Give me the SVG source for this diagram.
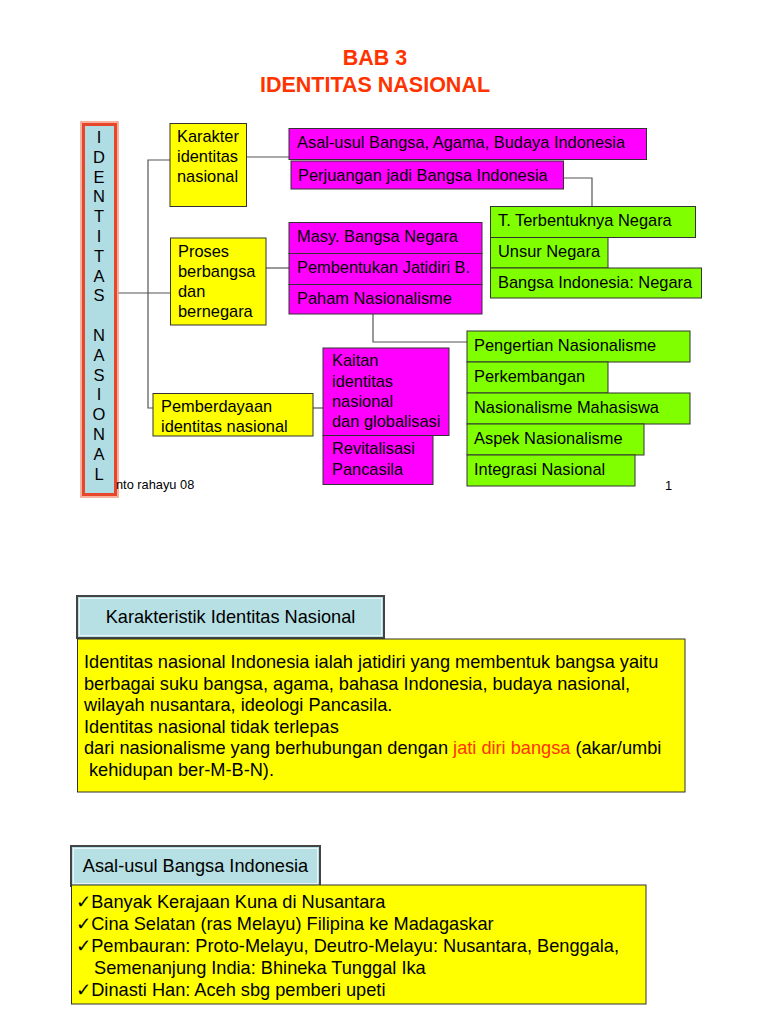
<svg xmlns="http://www.w3.org/2000/svg" width="768" height="1024" viewBox="0 0 768 1024">
<style>
text{font-family:"Liberation Sans","DejaVu Sans",Arial,sans-serif;fill:#000}
.t{font-size:16.4px}
.title{font-size:21.5px;font-weight:bold;fill:#ff3300;text-anchor:middle}
.v{font-size:16.5px;text-anchor:middle}
.foot{font-size:12.8px}
.b{font-size:18.2px}
.yel{fill:#ffff00;stroke:#333;stroke-width:1}
.mag{fill:#ff00ff;stroke:#333;stroke-width:1}
.grn{fill:#80ff00;stroke:#333;stroke-width:1}
.hdr{fill:#b6e0e4;stroke:#444;stroke-width:2}
.ln{fill:none;stroke:#555;stroke-width:1.2}
.red{fill:#ff3300}
</style>
<rect width="768" height="1024" fill="#fff"/>
<g id="title">
<text class="title" x="375" y="65">BAB 3</text>
<text class="title" x="375" y="92">IDENTITAS NASIONAL</text>
</g>
<g id="connectors">
<polyline class="ln" points="170,160 148,160 148,408 153,408"/>
<line class="ln" x1="118" y1="293" x2="170" y2="293"/>
<line class="ln" x1="241" y1="157" x2="289" y2="157"/>
<line class="ln" x1="266" y1="268" x2="289" y2="268"/>
<line class="ln" x1="313" y1="408" x2="323" y2="408"/>
<polyline class="ln" points="563,178 592,178 592,206"/>
<polyline class="ln" points="373,314 373,342 467,342"/>
</g>
<g id="n-identitas">
<rect x="81" y="122" width="37" height="375" fill="none" stroke="#f29a80" stroke-width="1.5"/>
<rect x="83.5" y="124.5" width="32" height="370" fill="#b0dce4" stroke="#e8462a" stroke-width="3"/>
<text class="v" x="99" y="143">I</text>
<text class="v" x="99" y="162.8">D</text>
<text class="v" x="99" y="182.6">E</text>
<text class="v" x="99" y="202.4">N</text>
<text class="v" x="99" y="222.2">T</text>
<text class="v" x="99" y="242">I</text>
<text class="v" x="99" y="261.8">T</text>
<text class="v" x="99" y="281.6">A</text>
<text class="v" x="99" y="301.4">S</text>
<text class="v" x="99" y="341">N</text>
<text class="v" x="99" y="360.8">A</text>
<text class="v" x="99" y="380.6">S</text>
<text class="v" x="99" y="400.4">I</text>
<text class="v" x="99" y="420.2">O</text>
<text class="v" x="99" y="440">N</text>
<text class="v" x="99" y="459.8">A</text>
<text class="v" x="99" y="479.6">L</text>
</g>
<text class="foot" x="116" y="489">nto rahayu 08</text>
<text class="foot" x="665" y="490">1</text>
<g id="n-karakter">
<rect class="yel" x="170" y="123.5" width="76.5" height="83"/>
<text class="t" x="177" y="142">Karakter</text>
<text class="t" x="177" y="162">identitas</text>
<text class="t" x="177" y="182">nasional</text>
</g>
<g id="n-proses">
<rect class="yel" x="170.5" y="238" width="95.5" height="87"/>
<text class="t" x="178" y="257">Proses</text>
<text class="t" x="178" y="277">berbangsa</text>
<text class="t" x="178" y="297">dan</text>
<text class="t" x="178" y="317">bernegara</text>
</g>
<g id="n-pemberdayaan">
<rect class="yel" x="153" y="393.5" width="160" height="42.5"/>
<text class="t" x="161" y="412">Pemberdayaan</text>
<text class="t" x="161" y="432">identitas nasional</text>
</g>
<g id="n-asal">
<rect class="mag" x="289" y="128.5" width="357.5" height="31"/>
<text class="t" x="297" y="148">Asal-usul Bangsa, Agama, Budaya Indonesia</text>
</g>
<g id="n-perjuangan">
<rect class="mag" x="291" y="161" width="272.5" height="28"/>
<text class="t" x="298" y="181">Perjuangan jadi Bangsa Indonesia</text>
</g>
<g id="n-masy">
<rect class="mag" x="289" y="222.5" width="193" height="31"/>
<text class="t" x="297" y="242">Masy. Bangsa Negara</text>
</g>
<g id="n-pembentukan">
<rect class="mag" x="289" y="253.5" width="193" height="31"/>
<text class="t" x="297" y="273">Pembentukan Jatidiri B.</text>
</g>
<g id="n-paham">
<rect class="mag" x="289" y="284.5" width="193" height="29.5"/>
<text class="t" x="297" y="304">Paham Nasionalisme</text>
</g>
<g id="n-terbentuk">
<rect class="grn" x="490.5" y="206.5" width="205" height="31"/>
<text class="t" x="498" y="226">T. Terbentuknya Negara</text>
</g>
<g id="n-unsur">
<rect class="grn" x="490.5" y="237.5" width="117.5" height="30.5"/>
<text class="t" x="498" y="257">Unsur Negara</text>
</g>
<g id="n-bangsa">
<rect class="grn" x="490.5" y="268" width="211" height="30"/>
<text class="t" x="498" y="288">Bangsa Indonesia: Negara</text>
</g>
<g id="n-pengertian">
<rect class="grn" x="467" y="331" width="223" height="31"/>
<text class="t" x="474" y="351">Pengertian Nasionalisme</text>
</g>
<g id="n-perkembangan">
<rect class="grn" x="467" y="362" width="141" height="31"/>
<text class="t" x="474" y="382">Perkembangan</text>
</g>
<g id="n-mahasiswa">
<rect class="grn" x="467" y="393" width="223" height="31"/>
<text class="t" x="474" y="413">Nasionalisme Mahasiswa</text>
</g>
<g id="n-aspek">
<rect class="grn" x="467" y="424" width="177" height="31"/>
<text class="t" x="474" y="444">Aspek Nasionalisme</text>
</g>
<g id="n-integrasi">
<rect class="grn" x="467" y="455" width="168" height="31"/>
<text class="t" x="474" y="475">Integrasi Nasional</text>
</g>
<g id="n-kaitan">
<rect class="mag" x="323" y="348" width="126" height="87.5"/>
<text class="t" x="332" y="366">Kaitan</text>
<text class="t" x="332" y="387">identitas</text>
<text class="t" x="332" y="407">nasional</text>
<text class="t" x="332" y="427">dan globalisasi</text>
</g>
<g id="n-revitalisasi">
<rect class="mag" x="323" y="435.5" width="110" height="49"/>
<text class="t" x="332" y="454">Revitalisasi</text>
<text class="t" x="332" y="475">Pancasila</text>
</g>
<g id="n-karakteristik-hdr">
<rect class="hdr" x="77" y="596" width="307" height="42"/>
<rect x="79.5" y="598.5" width="302" height="37" fill="none" stroke="#e8f4f6" stroke-width="1"/>
<text class="b" x="230.5" y="623" text-anchor="middle">Karakteristik Identitas Nasional</text>
</g>
<g id="n-karakteristik-body">
<rect class="yel" x="77.5" y="639" width="607.5" height="153"/>
<text class="b" x="84" y="668">Identitas nasional Indonesia ialah jatidiri yang membentuk bangsa yaitu</text>
<text class="b" x="84" y="689.5">berbagai suku bangsa, agama, bahasa Indonesia, budaya nasional,</text>
<text class="b" x="84" y="711">wilayah nusantara, ideologi Pancasila.</text>
<text class="b" x="84" y="732.5">Identitas nasional tidak terlepas</text>
<text class="b" x="84" y="754">dari nasionalisme yang berhubungan dengan <tspan class="red">jati diri bangsa</tspan> (akar/umbi</text>
<text class="b" x="89" y="775.5">kehidupan ber-M-B-N).</text>
</g>
<g id="n-asal-hdr">
<rect class="hdr" x="71" y="846" width="249" height="40"/>
<rect x="73.5" y="848.5" width="244" height="35" fill="none" stroke="#e8f4f6" stroke-width="1"/>
<text class="b" x="195.5" y="872" text-anchor="middle">Asal-usul Bangsa Indonesia</text>
</g>
<g id="n-asal-body">
<rect class="yel" x="71.5" y="885" width="574.5" height="119"/>
<text class="b" x="76" y="908">✓Banyak Kerajaan Kuna di Nusantara</text>
<text class="b" x="76" y="930">✓Cina Selatan (ras Melayu) Filipina ke Madagaskar</text>
<text class="b" x="76" y="952">✓Pembauran: Proto-Melayu, Deutro-Melayu: Nusantara, Benggala,</text>
<text class="b" x="94" y="974">Semenanjung India: Bhineka Tunggal Ika</text>
<text class="b" x="76" y="996">✓Dinasti Han: Aceh sbg pemberi upeti</text>
</g>
<text class="foot" x="93" y="1033">nto rahayu 08</text>
<text class="foot" x="665" y="1033">2</text>
</svg>
